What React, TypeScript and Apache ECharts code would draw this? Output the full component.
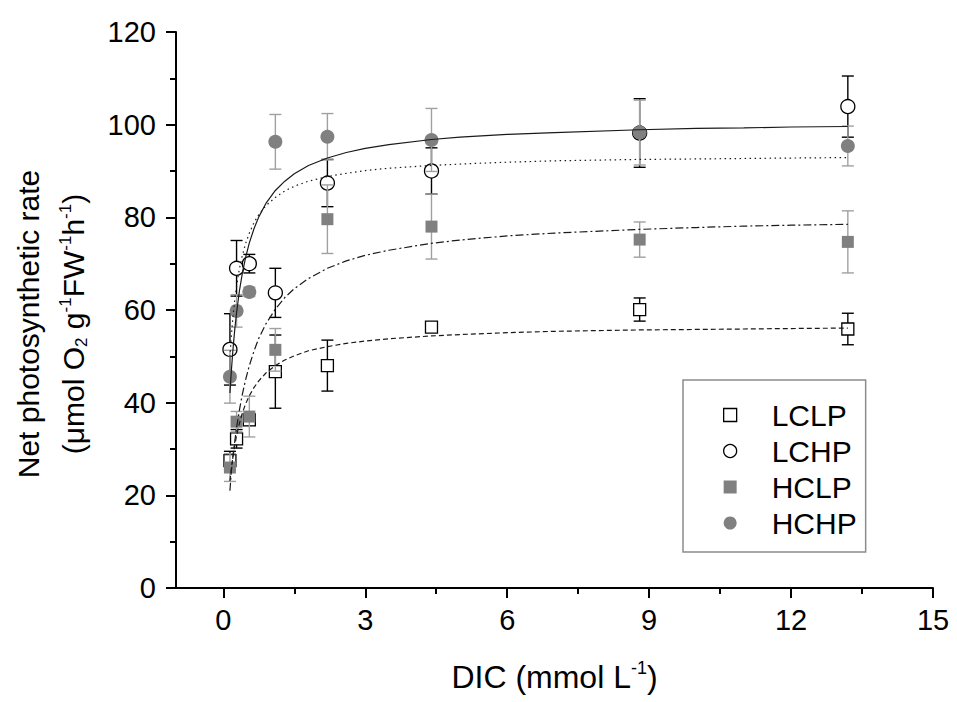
import React, { useEffect, useRef } from "react";
import * as echarts from "echarts";

// ---- data ----
const dic = [0.14, 0.28, 0.55, 1.1, 2.2, 4.4, 8.8, 13.2];

const lclp = [27.5, 32.2, 36.3, 46.7, 48.0, 56.3, 60.1, 55.9];
const lclpSd = [2.0, 2.0, 1.2, 7.9, 5.5, 0.6, 2.5, 3.4];

const lchp = [51.5, 69.0, 70.0, 63.7, 87.4, 90.0, 98.2, 103.9];
const lchpSd = [7.7, 6.0, 2.0, 5.3, 5.1, 5.0, 7.4, 6.6];

const hclp = [26.0, 35.9, 37.0, 51.4, 79.6, 78.0, 75.2, 74.7];
const hclpSd = [3.0, 2.2, 4.4, 4.6, 7.4, 7.0, 3.8, 6.7];

const hchp = [45.6, 59.8, 63.9, 96.3, 97.4, 96.7, 98.3, 95.4];
const hchpSd = [5.7, 3.5, 1.0, 5.9, 5.0, 6.8, 7.0, 4.3];

// fitted curves
const fitX = [0.14, 0.17, 0.2, 0.24, 0.28, 0.34, 0.4, 0.47, 0.55, 0.65, 0.75, 0.9, 1.1, 1.3, 1.5, 1.8, 2.2, 2.6, 3, 3.5, 4.4, 5, 6, 7, 8.8, 10, 11, 12, 13.2];
const lclpFit = [23.1, 25.8, 28.1, 30.7, 32.9, 35.5, 37.7, 39.7, 41.5, 43.3, 44.7, 46.4, 48.0, 49.2, 50.1, 51.2, 52.1, 52.8, 53.3, 53.8, 54.4, 54.7, 55.1, 55.4, 55.7, 55.8, 55.9, 56.0, 56.1];
const lchpFit = [49.9, 54.4, 58.1, 62.0, 65.2, 68.9, 71.7, 74.3, 76.6, 78.9, 80.6, 82.5, 84.3, 85.7, 86.7, 87.8, 88.8, 89.5, 90.1, 90.6, 91.2, 91.5, 91.9, 92.2, 92.5, 92.6, 92.7, 92.8, 92.9];
const hclpFit = [21.0, 25.2, 28.1, 31.5, 34.6, 38.4, 41.7, 44.9, 48.0, 51.2, 53.9, 57.0, 60.2, 62.7, 64.6, 66.8, 69.0, 70.6, 71.8, 72.9, 74.4, 75.1, 76.0, 76.6, 77.4, 77.8, 78.1, 78.3, 78.5];
const hchpFit = [42.1, 46.9, 51.0, 55.6, 59.4, 64.1, 67.8, 71.3, 74.5, 77.6, 80.1, 83.0, 85.8, 87.8, 89.4, 91.2, 92.8, 94.0, 94.9, 95.7, 96.8, 97.3, 97.9, 98.3, 98.9, 99.2, 99.3, 99.5, 99.6];

const xMajor = [0, 3, 6, 9, 12, 15];
const xMinor = [1.5, 4.5, 7.5, 10.5, 13.5];

const FONT = "'Liberation Sans', Arial, sans-serif";
const GREY = "#808080";
const GREY_BAR = "#a0a0a0";

function pts(ys: number[]) {
  return dic.map((x, i) => [x, ys[i]]);
}
function fitPts(ys: number[]) {
  return fitX.map((x, i) => [x, ys[i]]);
}
function errData(ys: number[], sd: number[]) {
  return dic.map((x, i) => [x, ys[i] - sd[i], ys[i] + sd[i]]);
}

function errSeries(ys: number[], sd: number[], color: string, z: number) {
  return {
    type: "custom",
    z,
    silent: true,
    encode: { x: 0, y: [1, 2] },
    data: errData(ys, sd),
    renderItem: (params: any, api: any) => {
      const x = api.value(0);
      const lo = api.coord([x, api.value(1)]);
      const hi = api.coord([x, api.value(2)]);
      const w = 6;
      const style = { stroke: color, lineWidth: 1.4, fill: "none" };
      return {
        type: "group",
        children: [
          { type: "line", shape: { x1: hi[0], y1: hi[1], x2: lo[0], y2: lo[1] }, style },
          { type: "line", shape: { x1: hi[0] - w, y1: hi[1], x2: hi[0] + w, y2: hi[1] }, style },
          { type: "line", shape: { x1: lo[0] - w, y1: lo[1], x2: lo[0] + w, y2: lo[1] }, style },
        ],
      };
    },
  };
}

function fitSeries(ys: number[], type: any, z: number) {
  return {
    type: "line",
    z,
    silent: true,
    data: fitPts(ys),
    showSymbol: false,
    symbol: "none",
    smooth: false,
    lineStyle: { color: "#1a1a1a", width: 1.2, type },
  };
}

export default function App() {
  const ref = useRef<HTMLDivElement>(null);
  useEffect(() => {
    const chart = echarts.init(ref.current!, null, { renderer: "svg" });
    const yRich = {
      a: { fontSize: 30, fontFamily: FONT, color: "#000", lineHeight: 45, verticalAlign: "middle" },
      sup: { fontSize: 17, fontFamily: FONT, color: "#000", verticalAlign: "top", padding: [6, 0, 0, 0] },
      sub: { fontSize: 17, fontFamily: FONT, color: "#000", verticalAlign: "bottom", padding: [0, 0, 6, 0] },
    };
    const xRich = {
      a: { fontSize: 32, fontFamily: FONT, color: "#000", lineHeight: 36, verticalAlign: "middle" },
      sup: { fontSize: 18, fontFamily: FONT, color: "#000", verticalAlign: "top" },
    };
    chart.setOption({
      animation: false,
      backgroundColor: "#fff",
      grid: { left: 176, top: 32, right: 24, bottom: 114, containLabel: false },
      graphic: [
        {
          type: "text",
          x: 51,
          y: 324,
          rotation: Math.PI / 2,
          silent: true,
          style: {
            text:
              "{a|Net photosynthetic rate}\n{a|(μmol O}{sub|2}{a| g}{sup|-1}{a|FW}{sup|-1}{a|h}{sup|-1}{a|)}",
            rich: yRich,
            align: "center",
            verticalAlign: "middle",
            fill: "#000",
            font: "30px " + FONT,
          },
        },
      ],
      legend: {
        data: [{ name: "LCLP" }, { name: "LCHP" }, { name: "HCLP" }, { name: "HCHP" }],
        orient: "vertical",
        left: 683,
        top: 380,
        padding: [20, 9, 14, 40],
        itemWidth: 13,
        itemHeight: 13,
        itemGap: 6,
        borderColor: "#8c8c8c",
        borderWidth: 1.5,
        backgroundColor: "#fff",
        selectedMode: false,
        itemStyle: { borderWidth: 1.3 },
        textStyle: { fontSize: 30, color: "#000", fontFamily: FONT, padding: [0, 0, 0, 30] },
      },
      xAxis: [
        {
          type: "value",
          min: -1,
          max: 15,
          name: "{a|DIC (mmol L}{sup|-1}{a|)}",
          nameLocation: "middle",
          nameGap: 71,
          nameTextStyle: { rich: xRich },
          axisLine: { show: true, onZero: false, lineStyle: { color: "#000", width: 2 } },
          axisTick: { show: true, customValues: xMajor, length: 10, lineStyle: { color: "#000", width: 2 } },
          axisLabel: { customValues: xMajor, fontSize: 29, color: "#000", fontFamily: FONT, margin: 17 },
          splitLine: { show: false },
        },
        {
          type: "value",
          min: -1,
          max: 15,
          position: "bottom",
          axisLine: { show: false },
          axisTick: { show: true, customValues: xMinor, length: 6, lineStyle: { color: "#000", width: 2 } },
          axisLabel: { show: false },
          splitLine: { show: false },
        },
      ],
      yAxis: {
        type: "value",
        min: 0,
        max: 120,
        interval: 20,
        axisLine: { show: true, onZero: false, lineStyle: { color: "#000", width: 2 } },
        axisTick: { show: true, length: 10, lineStyle: { color: "#000", width: 2 } },
        minorTick: { show: true, splitNumber: 2, length: 6, lineStyle: { color: "#000", width: 2 } },
        axisLabel: { fontSize: 29, color: "#000", fontFamily: FONT, margin: 20 },
        splitLine: { show: false },
        minorSplitLine: { show: false },
      },
      series: [
        errSeries(lclp, lclpSd, "#000", 2),
        {
          name: "LCLP", type: "scatter", z: 3, data: pts(lclp), symbol: "rect", symbolSize: 12,
          itemStyle: { color: "#fff", borderColor: "#000", borderWidth: 1.3, opacity: 1 },
        },
        errSeries(lchp, lchpSd, "#000", 4),
        {
          name: "LCHP", type: "scatter", z: 5, data: pts(lchp), symbol: "circle", symbolSize: 14,
          itemStyle: { color: "#fff", borderColor: "#000", borderWidth: 1.3, opacity: 1 },
        },
        errSeries(hclp, hclpSd, GREY_BAR, 6),
        {
          name: "HCLP", type: "scatter", z: 7, data: pts(hclp), symbol: "rect", symbolSize: 12,
          itemStyle: { color: GREY, opacity: 1 },
        },
        errSeries(hchp, hchpSd, GREY_BAR, 8),
        {
          name: "HCHP", type: "scatter", z: 9, data: pts(hchp), symbol: "circle", symbolSize: 14,
          itemStyle: { color: GREY, opacity: 1 },
        },
        fitSeries(lclpFit, [5, 3], 10),
        fitSeries(lchpFit, [1.5, 3.5], 10),
        fitSeries(hclpFit, [8, 3, 2, 3], 10),
        fitSeries(hchpFit, "solid", 10),
      ],
    });
    return () => chart.dispose();
  }, []);
  return (
    <div
      ref={ref}
      style={{ position: "fixed", left: 0, top: 0, width: 957, height: 702, background: "#fff" }}
    />
  );
}
